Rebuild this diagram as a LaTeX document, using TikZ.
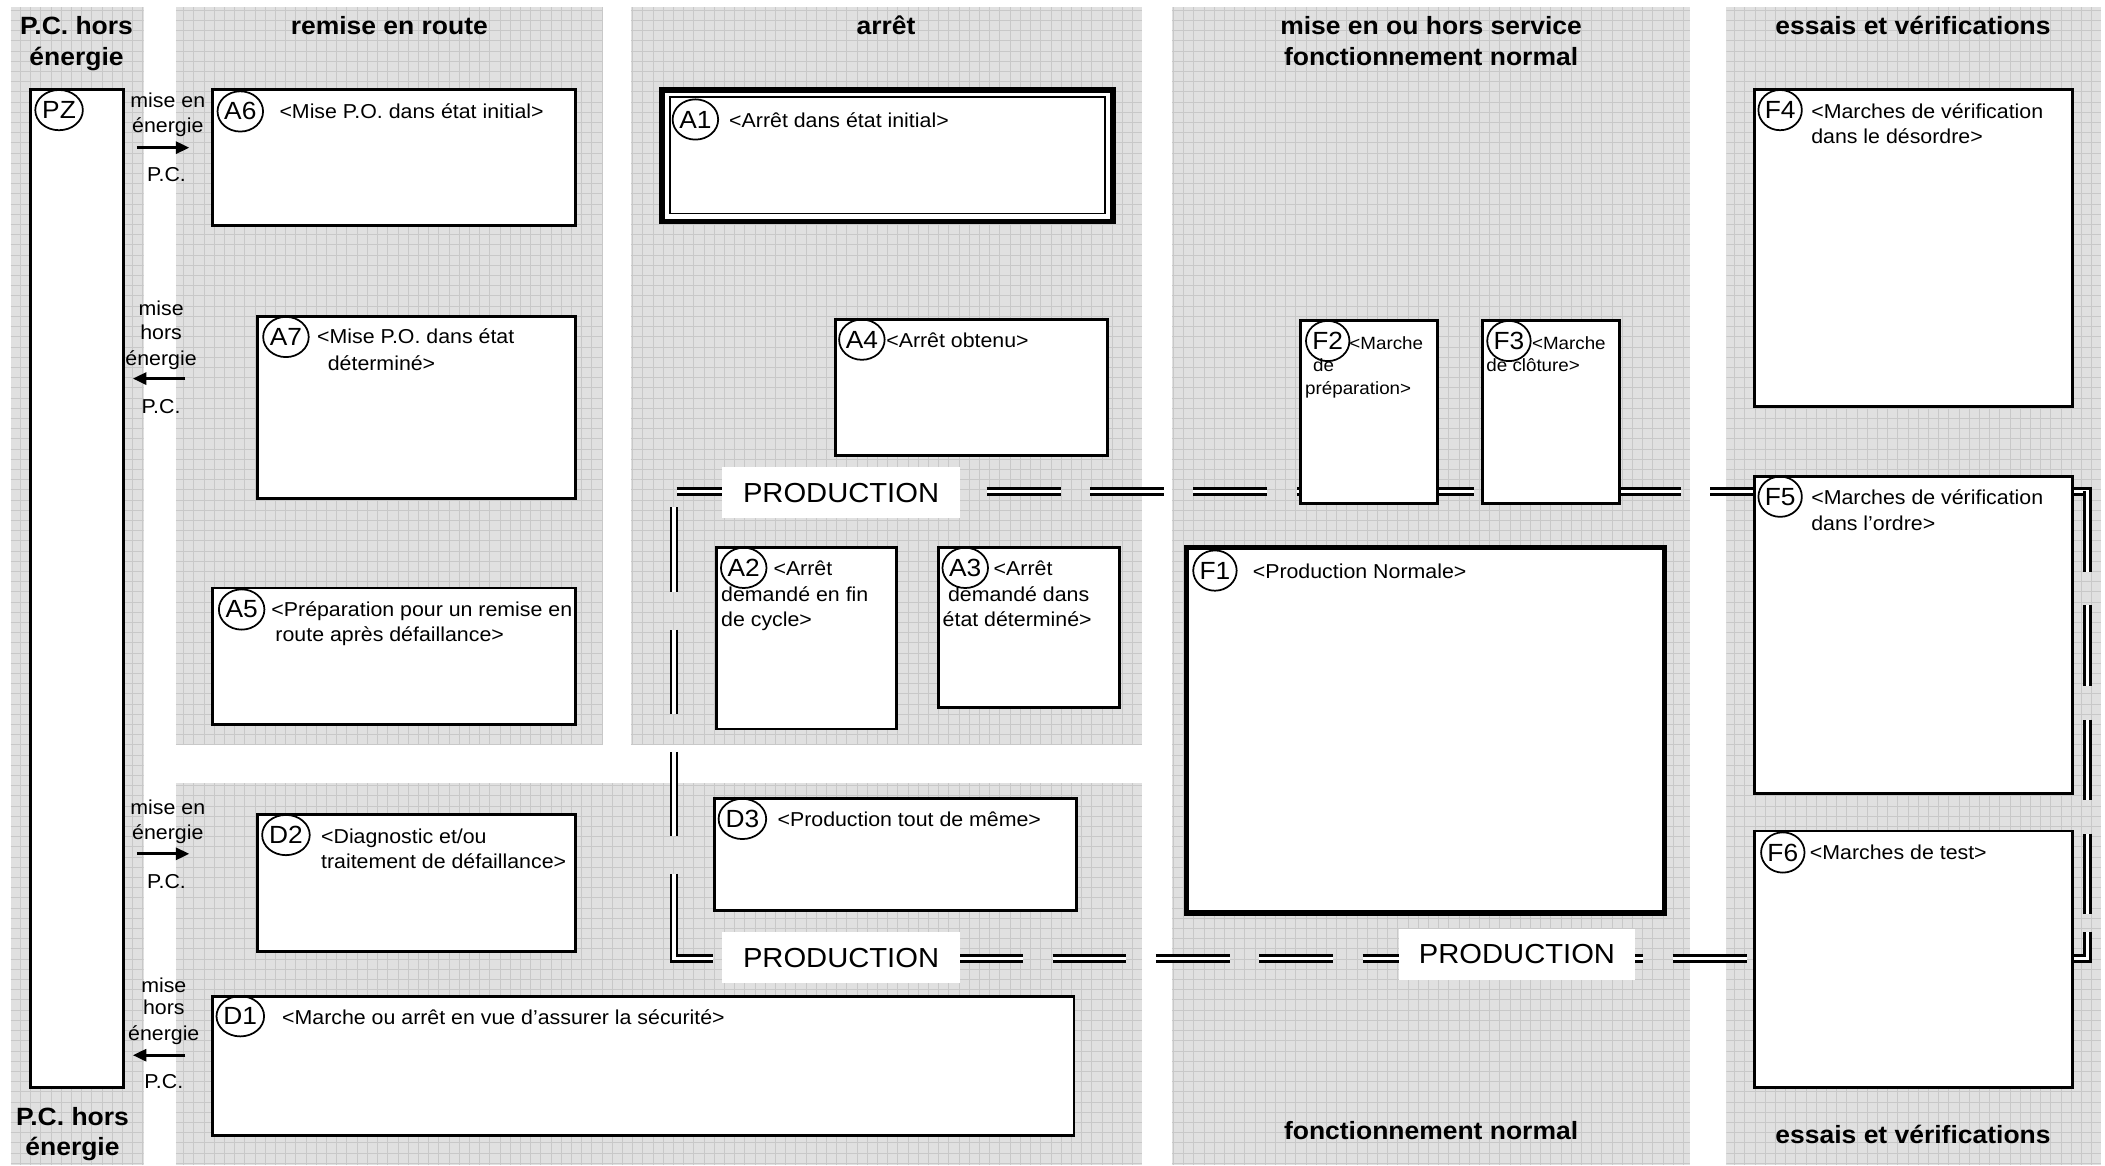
\documentclass[tikz,border=0pt]{standalone}
\usepackage{fontspec}
\setmainfont{Liberation Sans}[FakeStretch=1.06]
\usetikzlibrary{arrows.meta,shapes.geometric}
\definecolor{panelbg}{RGB}{224,224,224}
\definecolor{gridc}{RGB}{200,200,200}
\tikzset{
  box/.style={draw=black, fill=white, line width=2.2pt, inner sep=0pt, outer sep=0pt},
  thickbox/.style={box, line width=4pt},
  thinbox/.style={draw=black, fill=white, line width=1.4pt, inner sep=0pt, outer sep=0pt},
  circ/.style={draw=black, ellipse, line width=1.3pt, inner sep=0pt, minimum width=32pt, minimum height=30pt, font=\fontsize{18.5}{20}\selectfont},
  txt/.style={font=\fontsize{15}{18}\selectfont, inner sep=0pt, anchor=base west},
  smalltxt/.style={font=\fontsize{13.2}{16}\selectfont, inner sep=0pt, anchor=base west},
  hdr/.style={font=\fontsize{18.6}{22}\selectfont\bfseries, inner sep=0pt, anchor=base},
  side/.style={font=\fontsize{15}{18}\selectfont, inner sep=0pt, anchor=base},
  prodlab/.style={fill=white, inner sep=0pt, minimum width=177pt, minimum height=38pt, font=\fontsize{20.5}{24}\selectfont},
  prod/.style={draw=black, double=white, double distance=2.4pt, line width=2pt, line cap=butt},
  arr/.style={-{Triangle[length=10pt,width=9pt]}, line width=2pt},
  gridln/.style={draw=gridc, line width=0.6pt}
}
\newcommand\gpanel[4]{%
  \fill[panelbg] (#1,#2) rectangle (#3,#4);
  \begin{scope}
    \clip (#1,#2) rectangle (#3,#4);
    \draw[gridln, step=7.6pt] (#1,#4) grid (#3,#2);
  \end{scope}}
\newcommand\gbx[6]{%
  \node[#6, anchor=north west, minimum width={(#4-#2)*1pt}, minimum height={(#5-#3)*1pt}] (#1) at (#2,#3) {};}
\begin{document}
\begin{tikzpicture}[x=1pt,y=-1pt]
\useasboundingbox (0,0) rectangle (1568,868);
\fill[white] (0,0) rectangle (1568,868);
% panels
\gpanel{8}{5}{107}{868}
\gpanel{131}{5}{449}{555}
\gpanel{470}{5}{851}{555}
\gpanel{873}{5}{1259}{868}
\gpanel{1286}{5}{1565}{868}
\gpanel{131}{583}{851}{868}
% headers
\node[hdr] (h1a) at (57,26) {P.C. hors};
\node[hdr] (h1b) at (57,49) {énergie};
\node[hdr] (h2) at (290,26) {remise en route};
\node[hdr] (h3) at (660,26) {arrêt};
\node[hdr] (h4a) at (1066,26) {mise en ou hors service};
\node[hdr] (h4b) at (1066,49) {fonctionnement normal};
\node[hdr] (h5) at (1425,26) {essais et vérifications};
\node[hdr] (b1a) at (54,838) {P.C. hors};
\node[hdr] (b1b) at (54,861) {énergie};
\node[hdr] (b4) at (1066,849) {fonctionnement normal};
\node[hdr] (b5) at (1425,852) {essais et vérifications};
% production loop
\coordinate (pTL) at (504,366);
\coordinate (pTR) at (1555,366);
\coordinate (pBR) at (1555,714);
\coordinate (pBL) at (502,714);
\draw[prod, dash pattern=on 55pt off 22pt] (pTL) -- (pTR);
\draw[prod] (1544,366) -- (pTR) -- (1555,380);
\draw[prod, dash pattern=on 60pt off 25pt] (1555,366) -- (pBR);
\draw[prod] (1555,694) -- (pBR) -- (1544,714);
\draw[prod, dash pattern=on 63pt off 28pt] (502,378) -- (pBL);
\draw[prod, dash pattern=on 55pt off 22pt] (502,688) -- (pBL) -- (1307,714);
\node[prodlab] (prod1) at (626.5,367) {PRODUCTION};
\node[prodlab] (prod2) at (626.5,713.5) {PRODUCTION};
\node[prodlab, minimum width=176pt] (prod3) at (1130,711) {PRODUCTION};
% boxes
\gbx{PZ}{23}{67}{92}{810}{box}
\gbx{A6}{158}{67}{429}{168}{box}
\gbx{A7}{192}{236}{429}{371}{box}
\gbx{A5}{158}{438}{429}{540}{box}
\gbx{D2}{192}{607}{429}{709}{box}
\gbx{D1}{158}{742}{800}{846}{box}
\gbx{A1}{493}{67}{829}{165}{thickbox}
\gbx{A1i}{499}{72}{823}{159}{thinbox}
\gbx{A4}{622}{238}{825}{339}{box}
\gbx{A2}{534}{408}{668}{543}{box}
\gbx{A3}{699}{408}{834}{527}{box}
\gbx{D3}{532}{595}{802}{678}{box}
\gbx{F2}{969}{239}{1071}{375}{box}
\gbx{F3}{1104}{239}{1206}{375}{box}
\gbx{F1}{884}{408}{1240}{680}{thickbox}
\gbx{F4}{1307}{67}{1544}{303}{box}
\gbx{F5}{1307}{355}{1544}{591}{box}
\gbx{F6}{1307}{619}{1544}{810}{box}
% circles
\node[circ] (cPZ) at (44,82) {PZ};
\node[circ] (cA6) at (179,83) {A6};
\node[circ] (cA7) at (213,251) {A7};
\node[circ] (cA5) at (180,454) {A5};
\node[circ] (cD2) at (213,622) {D2};
\node[circ] (cD1) at (179,757) {D1};
\node[circ] (cA1) at (518,89) {A1};
\node[circ] (cA4) at (642,253) {A4};
\node[circ] (cA2) at (554,423) {A2};
\node[circ] (cA3) at (719,423) {A3};
\node[circ] (cD3) at (553,610) {D3};
\node[circ] (cF2) at (989,254) {F2};
\node[circ] (cF3) at (1124,254) {F3};
\node[circ] (cF1) at (905,425) {F1};
\node[circ] (cF4) at (1326,82) {F4};
\node[circ] (cF5) at (1326,370) {F5};
\node[circ] (cF6) at (1328,635) {F6};
% box texts
\node[txt] (tA6) at (208,88) {<Mise P.O. dans état initial>};
\node[txt] (tA7a) at (236,256) {<Mise P.O. dans état};
\node[txt] (tA7b) at (244,276) {déterminé>};
\node[txt] (tA5a) at (202,459) {<Préparation pour un remise en};
\node[txt] (tA5b) at (205,478) {route après défaillance>};
\node[txt] (tD2a) at (239,628) {<Diagnostic et/ou};
\node[txt] (tD2b) at (239,647) {traitement de défaillance>};
\node[txt] (tD1) at (210,763) {<Marche ou arrêt en vue d’assurer la sécurité>};
\node[txt] (tA1) at (543,95) {<Arrêt dans état initial>};
\node[txt] (tA4) at (660,259) {<Arrêt obtenu>};
\node[txt] (tA2a) at (576,429) {<Arrêt};
\node[txt] (tA2b) at (537,448) {demandé en fin};
\node[txt] (tA2c) at (537,467) {de cycle>};
\node[txt] (tA3a) at (740,429) {<Arrêt};
\node[txt] (tA3b) at (706,448) {demandé dans};
\node[txt] (tA3c) at (702,467) {état déterminé>};
\node[txt] (tD3) at (579,616) {<Production tout de même>};
\node[smalltxt] (tF2a) at (1005,260) {<Marche};
\node[smalltxt] (tF2b) at (978,277) {de};
\node[smalltxt] (tF2c) at (972,294) {préparation>};
\node[smalltxt] (tF3a) at (1141,260) {<Marche};
\node[smalltxt] (tF3b) at (1107,277) {de clôture>};
\node[txt] (tF1) at (933,431) {<Production Normale>};
\node[txt] (tF4a) at (1349,88) {<Marches de vérification};
\node[txt] (tF4b) at (1349,107) {dans le désordre>};
\node[txt] (tF5a) at (1349,376) {<Marches de vérification};
\node[txt] (tF5b) at (1349,395) {dans l’ordre>};
\node[txt] (tF6) at (1348,640) {<Marches de test>};
% side transitions
\node[side] (s1a) at (125,80) {mise en};
\node[side] (s1b) at (125,99) {énergie};
\node[side] (s1c) at (124,135) {P.C.};
\coordinate (ar1s) at (102,110); \coordinate (ar1e) at (141,110);
\draw[arr] (ar1s) -- (ar1e);
\node[side] (s2a) at (120,235) {mise};
\node[side] (s2b) at (120,253) {hors};
\node[side] (s2c) at (120,272) {énergie};
\node[side] (s2d) at (120,308) {P.C.};
\coordinate (ar2s) at (138,282); \coordinate (ar2e) at (99,282);
\draw[arr] (ar2s) -- (ar2e);
\node[side] (s3a) at (125,607) {mise en};
\node[side] (s3b) at (125,625) {énergie};
\node[side] (s3c) at (124,662) {P.C.};
\coordinate (ar3s) at (102,636); \coordinate (ar3e) at (141,636);
\draw[arr] (ar3s) -- (ar3e);
\node[side] (s4a) at (122,739) {mise};
\node[side] (s4b) at (122,756) {hors};
\node[side] (s4c) at (122,775) {énergie};
\node[side] (s4d) at (122,811) {P.C.};
\coordinate (ar4s) at (138,786); \coordinate (ar4e) at (99,786);
\draw[arr] (ar4s) -- (ar4e);
\end{tikzpicture}
\end{document}
